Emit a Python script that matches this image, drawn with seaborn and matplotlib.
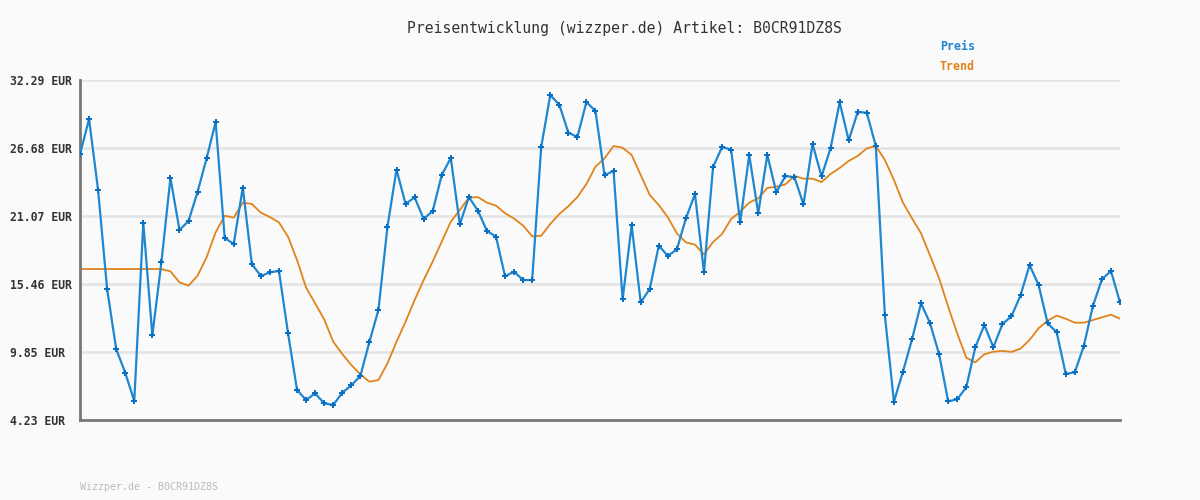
import numpy as np
import pandas as pd
import seaborn as sns
import matplotlib.pyplot as plt

# price readings (EUR), one per sample
preis = [26.16, 29.07, 23.21, 15.04, 10.09, 8.13, 5.80, 20.49, 11.22, 17.24,
         24.20, 19.91, 20.65, 23.05, 25.83, 28.82, 19.25, 18.76, 23.41, 17.10,
         16.11, 16.42, 16.53, 11.41, 6.71, 5.88, 6.43, 5.61, 5.47, 6.48,
         7.09, 7.86, 10.67, 13.31, 20.19, 24.89, 22.06, 22.61, 20.82, 21.48,
         24.45, 25.85, 20.38, 22.63, 21.51, 19.83, 19.36, 16.09, 16.47, 15.78,
         15.78, 26.76, 31.05, 30.25, 27.94, 27.59, 30.47, 29.73, 24.42, 24.80,
         14.19, 20.30, 13.94, 15.04, 18.62, 17.77, 18.31, 20.87, 22.88, 16.42,
         25.11, 26.76, 26.54, 20.54, 26.10, 21.29, 26.10, 23.02, 24.37, 24.26,
         22.03, 27.01, 24.34, 26.68, 30.45, 27.31, 29.65, 29.59, 26.84, 12.87,
         5.74, 8.22, 10.89, 13.86, 12.21, 9.65, 5.77, 5.94, 6.93, 10.23,
         12.07, 10.23, 12.15, 12.79, 14.52, 17.02, 15.37, 12.21, 11.47, 8.03,
         8.17, 10.34, 13.64, 15.84, 16.53, 13.94]

trend = [16.69, 16.69, 16.69, 16.69, 16.69, 16.69, 16.69, 16.69, 16.69, 16.69,
         16.50, 15.59, 15.32, 16.14, 17.66, 19.72, 21.09, 20.93, 22.17, 22.06,
         21.34, 20.98, 20.54, 19.36, 17.43, 15.15, 13.86, 12.54, 10.69, 9.68,
         8.77, 8.00, 7.39, 7.53, 8.91, 10.69, 12.34, 14.13, 15.78, 17.30,
         18.95, 20.60, 21.56, 22.58, 22.63, 22.17, 21.92, 21.29, 20.85, 20.27,
         19.39, 19.44, 20.41, 21.23, 21.87, 22.63, 23.71, 25.14, 25.83, 26.84,
         26.70, 26.10, 24.45, 22.80, 21.97, 20.96, 19.64, 18.89, 18.70, 17.90,
         18.92, 19.58, 20.82, 21.42, 22.17, 22.53, 23.38, 23.49, 23.68, 24.37,
         24.15, 24.15, 23.87, 24.53, 25.03, 25.61, 26.02, 26.65, 26.84, 25.69,
         24.04, 22.17, 20.87, 19.64, 17.79, 15.92, 13.58, 11.38, 9.37, 8.99,
         9.65, 9.87, 9.93, 9.85, 10.12, 10.84, 11.80, 12.43, 12.84, 12.59,
         12.26, 12.26, 12.48, 12.70, 12.92, 12.59]

yticks = [4.23, 9.85, 15.46, 21.07, 26.68, 32.29]
ytick_labels = [f"{v:.2f} EUR" for v in yticks]

df = pd.DataFrame({"idx": np.arange(len(preis)), "Preis": preis, "Trend": trend})

sns.set_style("white", {"axes.facecolor": "#fafafa", "figure.facecolor": "#fafafa"})
plt.rcParams['font.family'] = ['DejaVu Sans Mono', 'DejaVu Sans']

blue = "#1f86d0"
orange = "#e0841a"

fig = plt.figure(figsize=(12, 5), dpi=100)
ax = fig.add_axes([80 / 1200, 80 / 500, 1040 / 1200, 340 / 500])

sns.lineplot(data=df, x="idx", y="Trend", ax=ax, color=orange, linewidth=1.3, zorder=2)
sns.lineplot(data=df, x="idx", y="Preis", ax=ax, color=blue, linewidth=1.6,
             marker="P", markersize=4.5, markeredgewidth=0,
             markerfacecolor="#0a6fc0", zorder=3)

ax.set_xlim(0, len(preis) - 1)
ax.set_ylim(yticks[0], yticks[-1])
ax.set_xticks([])
ax.set_yticks(yticks)
ax.set_yticklabels(ytick_labels, fontsize=8.3, fontweight="bold", color="#333333")
for lab in ax.get_yticklabels():
    lab.set_horizontalalignment("left")
ax.tick_params(axis="y", length=0, pad=50.4)
ax.set_xlabel("")
ax.set_ylabel("")
ax.grid(axis="y", color="#e3e3e3", linewidth=1.8, zorder=0)
ax.set_axisbelow(True)
for side in ["top", "right"]:
    ax.spines[side].set_visible(False)
for side in ["left", "bottom"]:
    ax.spines[side].set_color("#777777")
    ax.spines[side].set_linewidth(2)

fig.text(624 / 1200, 1 - 28 / 500, "Preisentwicklung (wizzper.de) Artikel: B0CR91DZ8S",
         ha="center", va="center", fontsize=10.6, color="#333333")
fig.text(940 / 1200, 1 - 47 / 500, "Preis", ha="left", va="center",
         fontsize=8.4, fontweight="bold", color=blue)
fig.text(940 / 1200, 1 - 67 / 500, "Trend", ha="left", va="center",
         fontsize=8.4, fontweight="bold", color=orange)
fig.text(80 / 1200, 1 - 487 / 500, "Wizzper.de - B0CR91DZ8S", ha="left", va="center",
         fontsize=7.2, color="#bbbbbb")

fig.savefig("out.png", dpi=100, facecolor=fig.get_facecolor())
